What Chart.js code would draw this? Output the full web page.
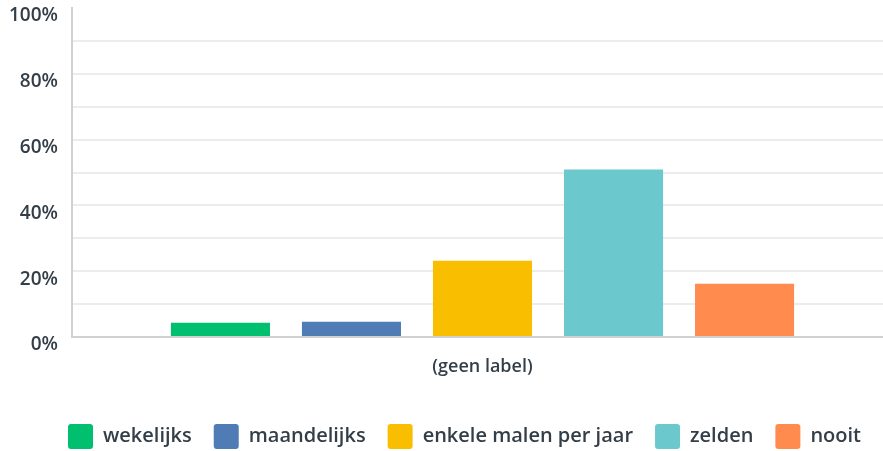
<!DOCTYPE html>
<html>
<head>
<meta charset="utf-8">
<script src="https://cdn.jsdelivr.net/npm/chart.js@4"></script>
<style>
  html, body { margin: 0; padding: 0; background: #fff; overflow: hidden; }
  /* the original plot runs a little past the right edge of the picture */
  #wrap { width: 893px; height: 451px; position: relative; }
</style>
</head>
<body>
<div id="wrap"><canvas id="chart"></canvas></div>
<script>
// data
const categories = ["(geen label)"];
const seriesNames = ["wekelijks", "maandelijks", "enkele malen per jaar", "zelden", "nooit"];
const seriesValues = [4.3, 4.6, 23.2, 50.9, 16.2];
const seriesColors = ["#00bf6f", "#507cb6", "#f9be00", "#6bc8cd", "#ff8b4f"];
const yTickLabels = ["0%", "20%", "40%", "60%", "80%", "100%"];

const textColor = "#333e48";
const fontFamily = "'Open Sans', sans-serif";

// fixed legend height, and nudge it right like the original
const legendTweak = {
    id: "legendTweak",
    beforeInit(chart) {
        const fit = chart.legend.fit;
        chart.legend.fit = function () {
            fit.bind(chart.legend)();
            this.height = 49;
        };
    },
    afterLayout(chart) {
        chart.legend.left += 18;
        chart.legend.right += 18;
    }
};

new Chart(document.getElementById("chart"), {
    type: "bar",
    data: {
        labels: categories,
        datasets: seriesNames.map((name, i) => ({
            label: name,
            data: [seriesValues[i]],
            backgroundColor: seriesColors[i],
            borderWidth: 0,
            categoryPercentage: 0.798,
            barPercentage: 0.756
        }))
    },
    options: {
        responsive: true,
        maintainAspectRatio: false,
        animation: false,
        layout: { padding: { top: 8, right: 0, left: 0, bottom: 0 } },
        plugins: {
            tooltip: { enabled: false },
            legend: {
                position: "bottom",
                labels: {
                    boxWidth: 25,
                    boxHeight: 25,
                    useBorderRadius: true,
                    borderRadius: 3,
                    padding: 22,
                    color: textColor,
                    font: { family: fontFamily, size: 20, weight: "600" }
                }
            }
        },
        scales: {
            x: {
                grid: { display: false, drawTicks: false },
                border: { color: "#d0d0d0", width: 2 },
                ticks: { color: textColor, padding: 19, font: { family: fontFamily, size: 18, weight: "600" } },
                afterFit(scale) { scale.height = 65; }
            },
            y: {
                min: 0,
                max: 100,
                grid: {
                    drawTicks: false,
                    color: ctx => (ctx.tick && ctx.tick.value === 100) ? "rgba(0,0,0,0)" : "#ececec",
                    lineWidth: 2
                },
                border: { color: "#d0d0d0", width: 2 },
                ticks: {
                    stepSize: 10,
                    padding: 14,
                    labelOffset: 8,
                    color: textColor,
                    font: { family: fontFamily, size: 19, weight: "600" },
                    callback: v => (v % 20 === 0) ? yTickLabels[v / 20] : ""
                },
                afterFit(scale) {
                    scale.width = 72;
                    scale.paddingTop = 0;
                    scale.paddingBottom = 0;
                }
            }
        }
    },
    plugins: [legendTweak]
});
</script>
</body>
</html>
